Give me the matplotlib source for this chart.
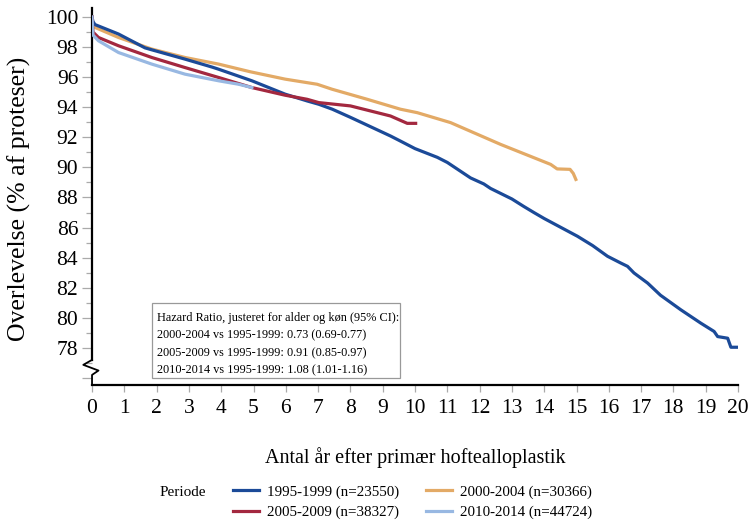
import matplotlib
matplotlib.use("Agg")
import matplotlib.pyplot as plt
from matplotlib.lines import Line2D
from matplotlib.patches import Rectangle

plt.rcParams["font.family"] = ["Liberation Serif", "DejaVu Serif"]

# Kaplan-Meier survival (% of prostheses) by period of primary operation
t_9599 = [0, 0.03, 0.09, 0.82, 1.64, 1.85, 2.88, 3.72, 3.92, 4.95, 5.98, 6.66, 7.02, 7.44,
          8.0, 9.24, 9.55, 10.0, 10.69, 11.0, 11.72, 12.13, 12.34, 13.0, 13.37, 13.68, 14.0,
          15.03, 15.5, 15.96, 16.37, 16.58, 16.78, 17.2, 17.6, 18.23, 18.85, 19.26, 19.37,
          19.68, 19.78, 20.0]
s_9599 = [100, 99.7, 99.5, 98.87, 97.95, 97.82, 97.2, 96.67, 96.53, 95.76, 94.87, 94.42, 94.2,
          93.87, 93.33, 92.09, 91.75, 91.25, 90.67, 90.33, 89.3, 88.9, 88.6, 87.9, 87.4,
          87.0, 86.6, 85.42, 84.8, 84.09, 83.64, 83.42, 82.98, 82.31, 81.5, 80.53, 79.64,
          79.09, 78.75, 78.64, 78.04, 78.04]

t_0004 = [0, 0.03, 0.09, 0.82, 1.85, 2.88, 3.92, 4.9, 5.98, 6.97, 7.43, 8.52, 9.55, 10.07,
          11.1, 12.65, 14.2, 14.4, 14.8, 14.9, 14.98]
s_0004 = [100, 99.5, 99.31, 98.64, 97.87, 97.31, 96.87, 96.36, 95.87, 95.53, 95.2, 94.53,
          93.87, 93.64, 92.98, 91.53, 90.2, 89.9, 89.87, 89.6, 89.2]

t_0509 = [0, 0.03, 0.2, 0.82, 1.85, 2.88, 3.92, 4.95, 5.98, 6.66, 7.02, 8.0, 9.24, 9.76, 10.02]
s_0509 = [100, 99.0, 98.64, 98.09, 97.31, 96.64, 95.98, 95.31, 94.8, 94.53, 94.31, 94.09,
          93.42, 92.93, 92.93]

t_1014 = [0, 0.03, 0.2, 0.82, 1.85, 2.88, 3.92, 4.54, 4.95]
s_1014 = [100, 98.8, 98.42, 97.64, 96.87, 96.2, 95.76, 95.53, 95.31]

labels = ["1995-1999 (n=23550)", "2000-2004 (n=30366)",
          "2005-2009 (n=38327)", "2010-2014 (n=44724)"]
colors = ["#1b4a98", "#e3aa66", "#a3283f", "#98b8e2"]

hr_lines = ["Hazard Ratio, justeret for alder og køn (95% CI):",
            "2000-2004 vs 1995-1999: 0.73 (0.69-0.77)",
            "2005-2009 vs 1995-1999: 0.91 (0.85-0.97)",
            "2010-2014 vs 1995-1999: 1.08 (1.01-1.16)"]

x_ticks = list(range(0, 21))
y_major = list(range(78, 101, 2))
y_minor = list(range(77, 101, 2))

fig = plt.figure(figsize=(7.5, 5.24), dpi=100)
ax = fig.add_axes([0.1227, 0.2653, 0.8613, 0.7194])
ymin, ymax = 75.53, 100.6
ax.set_xlim(0, 20)
ax.set_ylim(ymin, ymax)

series = [(t_9599, s_9599), (t_0004, s_0004), (t_0509, s_0509), (t_1014, s_1014)]
zorders = [3, 2, 4, 5]
for i, (t, s) in enumerate(series):
    ax.plot(t, s, color=colors[i], lw=2.3, solid_joinstyle="round", zorder=zorders[i])

for side in ("top", "right"):
    ax.spines[side].set_visible(False)
ax.spines["bottom"].set_linewidth(1.6)
ax.spines["left"].set_linewidth(1.6)
ax.spines["left"].set_bounds(77.2, ymax)

# axis break marker on the y axis
ax.plot([0, 0, -0.27, 0.2, 0, 0], [77.2, 77.2, 76.87, 76.49, 76.2, ymin],
        color="black", lw=1.3, clip_on=False, zorder=6)

ax.set_xticks(x_ticks)
ax.set_xticklabels([str(v) for v in x_ticks], fontsize=15.5)
ax.set_yticks(y_major + [76])
ax.set_yticklabels([str(v) for v in y_major] + [""], fontsize=15.5)
ax.set_yticks(y_minor, minor=True)
ax.tick_params(axis="x", direction="out", length=5, width=0.9, color="#aaaaaa", pad=5)
ax.tick_params(axis="y", which="major", direction="out", length=7, width=0.9,
               color="#aaaaaa", pad=3)
ax.tick_params(axis="y", which="minor", direction="out", length=4.5, width=0.9,
               color="#aaaaaa")

ax.set_xlabel("Antal år efter primær hoftealloplastik", fontsize=14.5, labelpad=21)
ax.set_ylabel("Overlevelse (% af proteser)", fontsize=18.5)
ax.yaxis.set_label_coords(-0.094, 0.493)

# hazard ratio box
ax.add_patch(Rectangle((1.86, 76.0), 9.55 - 1.86, 81.0 - 76.0, fc="white",
                       ec="#999999", lw=0.9, zorder=7))
for k, line in enumerate(hr_lines):
    ax.text(2.02, 80.0 - k * 1.17, line, fontsize=8.8, va="center", ha="left", zorder=8)

# legend at the bottom with a title on the left
fig.text(0.213, 0.061, "Periode", fontsize=11, ha="left", va="center")
handles = [Line2D([], [], color=c, lw=2.3) for c in colors]
idx = [0, 2, 1, 3]
fig.legend([handles[i] for i in idx], [labels[i] for i in idx], ncol=2,
           loc="center left", bbox_to_anchor=(0.301, 0.042), borderpad=0,
           frameon=False, fontsize=10.8, handlelength=1.7, handletextpad=0.55,
           columnspacing=1.8, labelspacing=0.45)

fig.savefig("out.png", dpi=100)
